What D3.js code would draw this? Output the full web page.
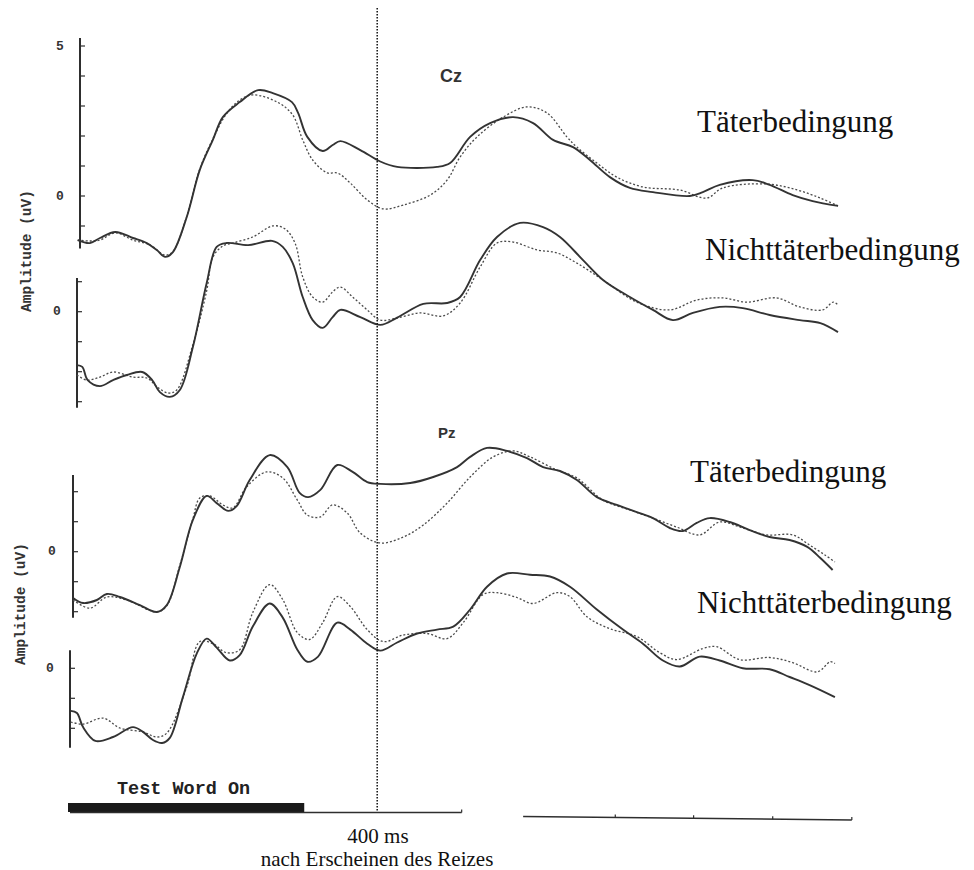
<!DOCTYPE html>
<html><head><meta charset="utf-8">
<script src="https://cdn.jsdelivr.net/npm/d3@7"></script>
<style>html,body{margin:0;padding:0;background:#fff;}svg{display:block;}</style>
</head><body>
<script>
// ---- DATA: [time in ms after stimulus, amplitude in µV] ----
const czTaeterSolid = [[10,-1.47],[26,-1.57],[39,-1.4],[59,-1.2],[82,-1.4],[100,-1.57],[113,-1.8],[124,-2.03],[134,-1.87],[152,-0.7],[169,0.87],[186,1.87],[199,2.63],[221,3.13],[245,3.53],[264,3.43],[289,3.13],[297,2.77],[309,1.97],[329,1.5],[342,1.7],[352,1.83],[378,1.53],[404,1.15],[426,0.97],[478,0.97],[495,1.1],[521,1.97],[547,2.43],[577,2.63],[603,2.43],[629,1.87],[655,1.63],[677,1.2],[703,0.63],[729,0.27],[759,0.13],[807,0.0],[824,0.13],[846,0.37],[889,0.53],[911,0.37],[941,0.03],[967,-0.17],[1000,-0.33]];
const czTaeterDotted = [[10,-1.47],[26,-1.5],[39,-1.47],[59,-1.23],[82,-1.47],[104,-1.63],[124,-1.97],[134,-1.85],[152,-0.68],[169,0.9],[186,1.9],[204,2.75],[221,3.2],[238,3.37],[270,3.13],[290,2.7],[303,1.87],[316,1.2],[335,0.77],[348,0.77],[365,0.43],[387,-0.13],[408,-0.43],[434,-0.3],[469,0.03],[491,0.53],[508,1.3],[530,1.97],[564,2.63],[595,2.97],[621,2.77],[647,1.97],[660,1.63],[686,1.1],[712,0.63],[746,0.3],[794,0.2],[829,-0.07],[850,0.27],[907,0.4],[947,0.2],[977,-0.07],[1000,-0.33]];
const czNichtSolid = [[9,-1.78],[16,-1.84],[23,-2.28],[39,-2.48],[56,-2.28],[74,-2.11],[94,-2.01],[107,-2.28],[117,-2.68],[130,-2.84],[143,-2.61],[160,-1.18],[178,0.96],[191,2.16],[204,2.29],[232,2.22],[263,2.36],[277,2.16],[290,1.62],[303,0.49],[316,-0.28],[329,-0.54],[342,-0.18],[352,0.06],[378,-0.18],[404,-0.44],[426,-0.2],[460,0.26],[491,0.29],[508,0.49],[534,1.72],[556,2.49],[586,2.96],[616,2.82],[638,2.49],[668,1.72],[694,1.06],[729,0.49],[759,0.06],[785,-0.28],[811,-0.04],[846,0.16],[876,0.12],[911,-0.11],[950,-0.28],[977,-0.38],[1000,-0.68]];
const czNichtDotted = [[9,-2.11],[22,-2.28],[39,-2.18],[56,-2.01],[82,-2.18],[100,-2.21],[115,-2.54],[128,-2.71],[139,-2.61],[160,-1.1],[178,0.7],[186,1.82],[199,2.19],[212,2.29],[238,2.49],[264,2.86],[280,2.76],[293,2.29],[303,1.16],[316,0.49],[329,0.32],[342,0.66],[352,0.82],[368,0.49],[387,0.06],[404,-0.28],[426,-0.21],[456,-0.04],[486,-0.14],[508,0.29],[534,1.49],[556,2.29],[577,2.32],[608,2.06],[634,1.96],[660,1.62],[694,1.06],[738,0.32],[781,0.06],[816,0.39],[850,0.46],[881,0.32],[920,0.46],[950,0.16],[980,0.06],[994,0.32],[1000,0.22]];
const pzTaeterSolid = [[4,-1.54],[17,-1.71],[35,-1.61],[48,-1.41],[65,-1.51],[91,-1.78],[113,-2.01],[126,-1.78],[143,-0.51],[160,1.06],[178,1.86],[191,1.62],[206,1.36],[217,1.52],[234,2.39],[260,3.22],[283,2.82],[299,1.96],[310,1.82],[326,2.06],[348,2.89],[368,2.66],[387,2.32],[404,2.26],[443,2.29],[473,2.49],[504,2.82],[521,3.16],[543,3.46],[569,3.36],[595,3.12],[616,2.82],[638,2.69],[660,2.39],[686,1.82],[712,1.56],[738,1.32],[759,1.12],[781,0.79],[798,0.69],[816,0.96],[833,1.12],[859,0.99],[885,0.72],[911,0.49],[937,0.39],[960,0.16],[977,-0.21],[993,-0.61]];
const pzTaeterDotted = [[4,-1.61],[26,-1.88],[48,-1.51],[74,-1.61],[113,-2.01],[126,-1.8],[143,-0.45],[160,1.1],[169,1.79],[182,1.86],[199,1.56],[212,1.46],[230,2.16],[256,2.66],[277,2.46],[296,1.72],[309,1.22],[326,1.16],[342,1.56],[361,1.29],[378,0.62],[404,0.29],[434,0.49],[460,0.89],[491,1.62],[521,2.49],[551,3.16],[577,3.36],[599,3.16],[634,2.72],[660,2.46],[694,1.72],[729,1.39],[759,1.12],[790,0.82],[820,0.56],[846,0.99],[876,0.79],[907,0.56],[941,0.56],[963,0.22],[983,-0.11],[996,-0.34]];
const pzNichtSolid = [[1,-1.42],[9,-1.49],[17,-1.96],[33,-2.42],[56,-2.29],[82,-1.96],[95,-2.12],[108,-2.39],[120,-2.49],[130,-2.32],[147,-0.96],[165,0.49],[178,0.99],[191,0.69],[208,0.26],[221,0.44],[238,1.39],[260,2.16],[277,1.69],[296,0.62],[309,0.22],[323,0.39],[348,1.52],[365,1.29],[387,0.82],[404,0.59],[426,0.86],[452,1.16],[478,1.29],[499,1.39],[521,1.96],[543,2.72],[569,3.16],[599,3.12],[625,3.06],[651,2.72],[686,1.96],[720,1.29],[746,0.82],[772,0.26],[794,0.06],[820,0.39],[846,0.26],[876,0.0],[911,-0.03],[937,-0.29],[963,-0.56],[996,-0.96]];
const pzNichtDotted = [[1,-1.79],[17,-1.86],[43,-1.66],[65,-1.99],[95,-2.12],[113,-2.29],[126,-2.16],[152,-0.62],[169,0.89],[186,0.82],[204,0.52],[221,0.62],[238,1.86],[260,2.79],[277,2.29],[296,1.19],[312,0.96],[329,1.52],[348,2.39],[365,2.06],[387,1.29],[408,0.89],[434,1.11],[465,1.16],[491,0.99],[512,1.52],[538,2.46],[556,2.52],[582,2.36],[603,2.16],[634,2.52],[651,2.39],[673,1.72],[703,1.32],[738,1.06],[768,0.52],[790,0.29],[824,0.66],[842,0.72],[872,0.29],[911,0.36],[941,0.19],[973,-0.12],[990,0.22],[996,0.16]];

const electrodeLabels = ["Cz", "Pz"];
const conditionLabels = ["Täterbedingung", "Nichttäterbedingung"];
const yTicksCzT = [-1,0,1,2,3,4,5];
const yTicksCzN = [-3,-2,-1,0,1];
const yTicksPzT = [-2,-1,0,1,2];
const yTicksPzN = [-2,-1,0];
const yLabeledCzT = [0,5];
const yLabeledOther = [0];
const axisExtentCzT = [-1.75,5.27];
const axisExtentCzN = [-3.2,1.12];
const axisExtentPzT = [-2.2,2.56];
const axisExtentPzN = [-2.65,0.6];
const stimulusOnMs = [0, 305];
const markerMs = 400;
const bottomSeg1Ms = [0, 510];
const bottomSeg2Ms = [590, 1018];
const bottomTicksMs = [510, 710, 812, 915, 1018];
const amplitudeLabel = "Amplitude (uV)";
const stimulusLabel = "Test Word On";
const markerLabel1 = "400 ms";
const markerLabel2 = "nach Erscheinen des Reizes";

// ---- LAYOUT ----
const W = 974, H = 870;
const svg = d3.select("body").append("svg").attr("width", W).attr("height", H);
const x = d3.scaleLinear().domain([0, 1000]).range([70, 838]);
const pxPerUV = 30;
const mono = "'Liberation Mono','DejaVu Sans Mono',monospace";
const serif = "'Liberation Serif','Times New Roman',serif";
const ink = "#2e2e2e";

const panels = [
  {zeroY:196,   axisX:80, ticks:yTicksCzT, labeled:yLabeledCzT, ext:axisExtentCzT, solid:czTaeterSolid, dotted:czTaeterDotted, labX:60},
  {zeroY:311.7, axisX:77, ticks:yTicksCzN, labeled:yLabeledOther, ext:axisExtentCzN, solid:czNichtSolid, dotted:czNichtDotted, labX:57},
  {zeroY:551.7, axisX:73, ticks:yTicksPzT, labeled:yLabeledOther, ext:axisExtentPzT, solid:pzTaeterSolid, dotted:pzTaeterDotted, labX:52},
  {zeroY:668.3, axisX:70, ticks:yTicksPzN, labeled:yLabeledOther, ext:axisExtentPzN, solid:pzNichtSolid, dotted:pzNichtDotted, labX:50}
];

panels.forEach(p => {
  const y = d3.scaleLinear().domain([0, 1]).range([p.zeroY, p.zeroY - pxPerUV]);
  const g = svg.append("g");
  // axis line
  g.append("line").attr("x1", p.axisX).attr("x2", p.axisX)
    .attr("y1", y(p.ext[1])).attr("y2", y(p.ext[0]))
    .attr("stroke", ink).attr("stroke-width", 2);
  // ticks
  g.selectAll("line.tk").data(p.ticks).join("line").attr("class","tk")
    .attr("x1", p.axisX).attr("x2", p.axisX + 5)
    .attr("y1", d => y(d)).attr("y2", d => y(d))
    .attr("stroke", ink).attr("stroke-width", 1.2);
  g.selectAll("text.tl").data(p.labeled).join("text").attr("class","tl")
    .attr("x", p.labX).attr("y", d => y(d))
    .attr("text-anchor","middle").attr("dominant-baseline","central")
    .attr("font-family", mono).attr("font-weight","bold").attr("font-size", 13)
    .attr("fill", "#333").text(d => d);
  const line = d3.line().x(d => x(d[0])).y(d => y(d[1])).curve(d3.curveCatmullRom.alpha(0.5));
  g.append("path").attr("d", line(p.dotted)).attr("fill","none")
    .attr("stroke", "#4a4a4a").attr("stroke-width", 1.3).attr("stroke-dasharray","2,2");
  g.append("path").attr("d", line(p.solid)).attr("fill","none")
    .attr("stroke", "#333").attr("stroke-width", 1.9);
});

// electrode labels
svg.append("text").attr("x", 440).attr("y", 82).attr("font-family","'Liberation Sans',Arial,sans-serif")
  .attr("font-weight","bold").attr("font-size", 18).attr("fill","#333").text(electrodeLabels[0]);
svg.append("text").attr("x", 438).attr("y", 438).attr("font-family","'Liberation Sans',Arial,sans-serif")
  .attr("font-weight","bold").attr("font-size", 15).attr("fill","#333").text(electrodeLabels[1]);

// condition labels
const condPos = [[697,132,0],[705,260,1],[690,482,0],[697,613,1]];
condPos.forEach(c => {
  svg.append("text").attr("x", c[0]).attr("y", c[1]).attr("font-family", serif)
    .attr("font-size", 31).attr("fill","#111").text(conditionLabels[c[2]]);
});

// amplitude labels
[[27,251],[21,604]].forEach(a => {
  svg.append("text").attr("transform", `translate(${a[0]},${a[1]}) rotate(-90)`)
    .attr("text-anchor","middle").attr("dominant-baseline","central")
    .attr("font-family", mono).attr("font-weight","bold").attr("font-size", 14.5)
    .attr("fill","#333").text(amplitudeLabel);
});

// vertical 400 ms marker
svg.append("line").attr("x1", x(markerMs)).attr("x2", x(markerMs)).attr("y1", 8).attr("y2", 813)
  .attr("stroke","#111").attr("stroke-width",1.5).attr("stroke-dasharray","1.5,1.5");

// stimulus bar + bottom axis
svg.append("rect").attr("x", x(stimulusOnMs[0]) - 2).attr("y", 803)
  .attr("width", x(stimulusOnMs[1]) - x(stimulusOnMs[0]) + 2).attr("height", 9).attr("fill","#1a1a1a");
svg.append("line").attr("x1", x(bottomSeg1Ms[0])).attr("x2", x(bottomSeg1Ms[1])).attr("y1", 812.5).attr("y2", 812.5)
  .attr("stroke", ink).attr("stroke-width", 1.3);
const seg2y = d3.scaleLinear().domain(bottomSeg2Ms).range([816.5, 820]);
svg.append("line").attr("x1", x(bottomSeg2Ms[0])).attr("x2", x(bottomSeg2Ms[1]))
  .attr("y1", seg2y(bottomSeg2Ms[0])).attr("y2", seg2y(bottomSeg2Ms[1]))
  .attr("stroke", ink).attr("stroke-width", 1.6);
svg.selectAll("line.bt").data(bottomTicksMs).join("line").attr("class","bt")
  .attr("x1", d => x(d)).attr("x2", d => x(d))
  .attr("y1", d => (d <= bottomSeg1Ms[1] ? 812.5 : seg2y(d))).attr("y2", d => (d <= bottomSeg1Ms[1] ? 809.5 : seg2y(d) - 3))
  .attr("stroke", ink).attr("stroke-width", 1.2);

svg.append("text").attr("x", 117).attr("y", 794).attr("font-family", mono).attr("font-weight","bold")
  .attr("font-size", 18.5).attr("fill","#222").text(stimulusLabel);
svg.append("text").attr("x", 378).attr("y", 843).attr("text-anchor","middle").attr("font-family", serif)
  .attr("font-size", 21).attr("fill","#111").text(markerLabel1);
svg.append("text").attr("x", 377).attr("y", 866).attr("text-anchor","middle").attr("font-family", serif)
  .attr("font-size", 21).attr("fill","#111").text(markerLabel2);
</script>
</body></html>
